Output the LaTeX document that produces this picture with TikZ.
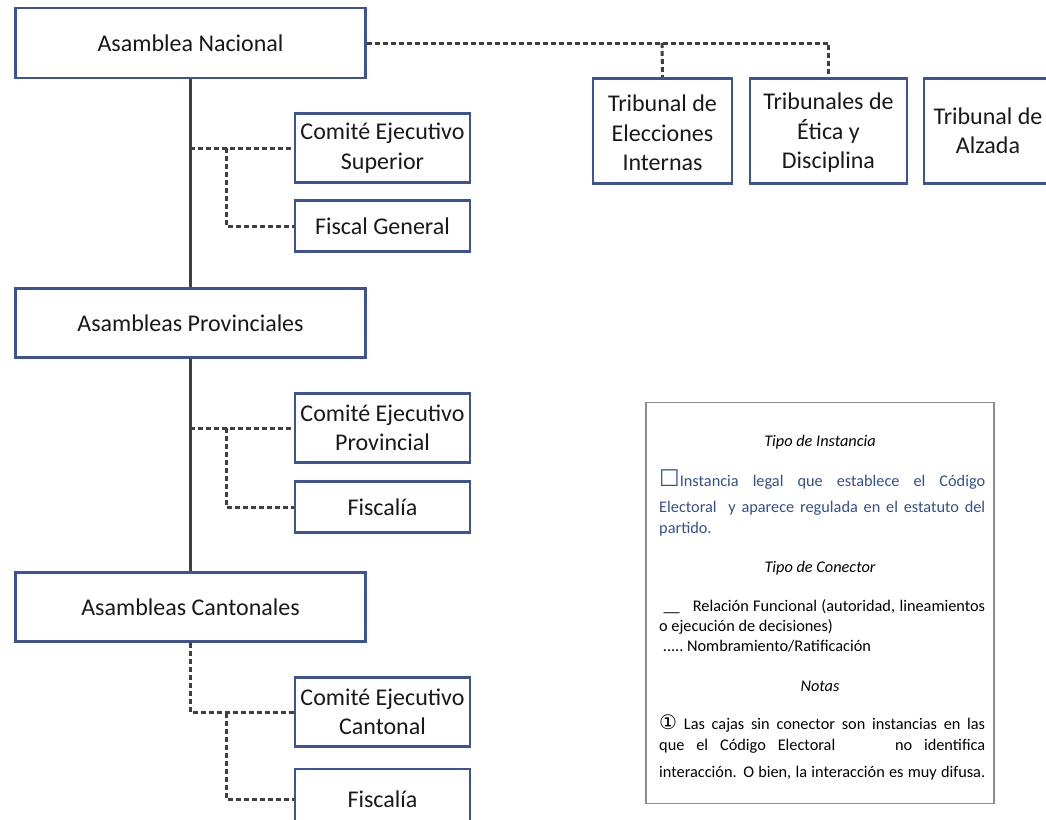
\documentclass[tikz,border=0pt]{standalone}
\usepackage{fontspec}
\setmainfont{Carlito}
\newfontfamily\symfont{DejaVu Sans}
\definecolor{boxblue}{HTML}{3E5393}
\definecolor{txtblue}{HTML}{33508F}
\definecolor{conn}{HTML}{404040}
\definecolor{legframe}{HTML}{8C8C8C}
\tikzset{
  orgbox/.style={draw=boxblue, line width=2.6pt, fill=white, rectangle, inner sep=0pt,
     align=center, font=\fontsize{24}{29.5}\selectfont, text=black!90},
  orgtext/.style={inner sep=0pt, align=center, font=\fontsize{24}{29.5}\selectfont, text=black!90},
  solidconn/.style={draw=conn, line width=3pt},
  dotconn/.style={draw=conn, line width=3pt, dash pattern=on 5pt off 3pt},
  legtxt/.style={inner sep=0pt, anchor=base west, font=\fontsize{16.3}{19}\selectfont},
  leghead/.style={inner sep=0pt, anchor=base, font=\fontsize{16.3}{19}\selectfont\itshape},
}
\begin{document}
\begin{tikzpicture}[x=1pt,y=-1pt]
\useasboundingbox (0,0) rectangle (1046,819);
\clip (0,0) rectangle (1046,819);
\fill[white] (0,0) rectangle (1046,819);
% main boxes
\node[orgbox, minimum width=350pt, minimum height=70pt] (an) at (190.5,43) {Asamblea Nacional};
\node[orgbox, minimum width=175pt, minimum height=69pt] (ces) at (382.5,148) {Comité Ejecutivo\\Superior};
\node[orgbox, minimum width=175pt, minimum height=51pt] (fg) at (382.5,226) {Fiscal General};
\node[orgbox, minimum width=139pt, minimum height=105pt] (tei) at (662.5,131) {};
\node[orgtext] (teit) at (662.5,133) {Tribunal de\\Elecciones\\Internas};
\node[orgbox, minimum width=157pt, minimum height=105pt] (ted) at (828.5,131) {};
\node[orgtext] (tedt) at (828.5,133) {Tribunales de\\Ética y\\Disciplina};
\node[orgbox, minimum width=128pt, minimum height=105pt] (ta) at (988,131) {Tribunal de\\Alzada};
\node[orgbox, minimum width=350pt, minimum height=69pt] (ap) at (190.5,323) {Asambleas Provinciales};
\node[orgbox, minimum width=175pt, minimum height=69pt] (cep) at (382.5,428) {Comité Ejecutivo\\Provincial};
\node[orgbox, minimum width=175pt, minimum height=51pt] (fp) at (382.5,507) {Fiscalía};
\node[orgbox, minimum width=350pt, minimum height=69pt] (ac) at (190.5,607) {Asambleas Cantonales};
\node[orgbox, minimum width=175pt, minimum height=69pt] (cec) at (382.5,712) {Comité Ejecutivo\\Cantonal};
\node[orgbox, minimum width=175pt, minimum height=60pt] (fc) at (382.5,799) {Fiscalía};
% solid connectors
\draw[solidconn] (an.south) -- (ap.north);
\draw[solidconn] (ap.south) -- (ac.north);
% dotted connectors: national
\coordinate (j1) at (190,148);
\coordinate (b1) at (226,148);
\draw[dotconn] (j1) -- (ces.west);
\draw[dotconn] (b1) |- (fg.west);
% provincial
\coordinate (j2) at (190,428);
\coordinate (b2) at (226,428);
\draw[dotconn] (j2) -- (cep.west);
\draw[dotconn] (b2) |- (fp.west);
% cantonal
\coordinate (b3) at (226,713);
\draw[dotconn] (ac.south) |- (cec.west);
\draw[dotconn] (b3) |- (fc.west);
% tribunals
\coordinate (t1) at (662,43);
\draw[dotconn] (an.east) -| (ted.north);
\draw[dotconn] (t1) -- (tei.north);
% legend
\node[draw=legframe, line width=1.8pt, minimum width=348pt, minimum height=401pt, inner sep=0pt] (leg) at (820,603) {};
\node[leghead] (l1) at (820,446) {Tipo de Instancia};
\node[legtxt, text=txtblue] (l2) at (659,486) {\hbox to 326pt{{\symfont\fontsize{23}{23}\selectfont ☐}Instancia legal que establece el Código}};
\node[legtxt, text=txtblue] (l3) at (659,512) {\hbox to 326pt{Electoral\ \ y aparece regulada en el estatuto del}};
\node[legtxt, text=txtblue] (l4) at (659,533) {partido.};
\node[leghead] (l5) at (820,572) {Tipo de Conector};
\node[legtxt] (l6) at (659,611) {\hbox to 326pt{\ \_\_\ \ \ Relación Funcional (autoridad, lineamientos}};
\node[legtxt] (l7) at (659,631) {o ejecución de decisiones)};
\node[legtxt] (l8) at (659,651) {\ .....\ Nombramiento/Ratificación};
\node[leghead] (l9) at (820,691) {Notas};
\node[legtxt] (l10) at (659,729) {\hbox to 326pt{{\symfont\fontsize{20}{20}\selectfont ①} Las cajas sin conector son instancias en las}};
\node[legtxt] (l11) at (659,750) {\hbox to 326pt{que el Código Electoral\hskip 15pt plus 10pt no identifica}};
\node[legtxt] (l12) at (659,777) {\hbox to 326pt{interacción. O bien, la interacción es muy difusa.}};
\end{tikzpicture}
\end{document}
